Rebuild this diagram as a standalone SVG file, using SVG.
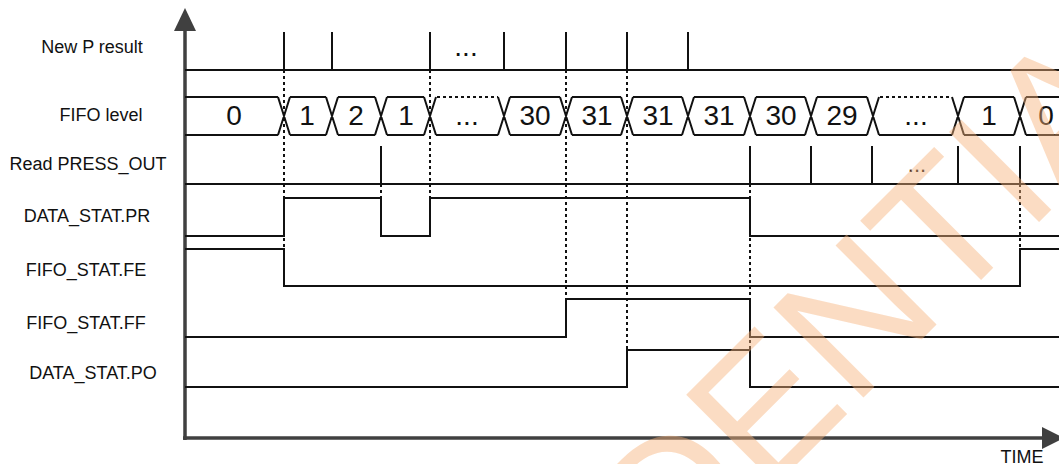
<svg xmlns="http://www.w3.org/2000/svg" width="1059" height="464" viewBox="0 0 1059 464">
<style>
.sig{stroke:#111;stroke-width:2;fill:none}
.dot{stroke:#111;stroke-width:2;fill:none;stroke-dasharray:3 3}
.axis{stroke:#404040;stroke-width:3.5;fill:none}
.lbl{font-family:"Liberation Sans",Arial,sans-serif;font-size:18px;fill:#111;text-anchor:middle}
.val{font-family:"Liberation Sans",Arial,sans-serif;font-size:28px;fill:#111;text-anchor:middle}
.wm{font-family:"Liberation Sans",Arial,sans-serif;font-size:185px;fill:#F7B27A;fill-opacity:0.45}
</style>
<rect width="1059" height="464" fill="#fff"/>
<g id="axes">
<path class="axis" d="M185,28 V440 M183,438 H1045"/>
<polygon points="185,8 174,31 196,31" fill="#404040"/>
<polygon points="1064,438 1042,427 1042,449" fill="#404040"/>
<text class="lbl" x="1022" y="463">TIME</text>
</g>
<g id="connectors">
<path class="dot" d="M284,70 V249 M430,70 V198 M381,184 V198 M566,70 V299 M627,70 V350 M750,184 V387 M1020,184 V249"/>
</g>
<g id="new-p-result">
<text class="lbl" x="92" y="53">New P result</text>
<path class="sig" d="M185,70 H1059 M284,32 V70 M332,32 V70 M430,32 V70 M504,32 V70 M566,32 V70 M627,32 V70 M688,32 V70"/>
<text class="val" x="466" y="56">...</text>
</g>
<g id="fifo-level">
<text class="lbl" x="101" y="121">FIFO level</text>
<path class="sig" d="M185,97 H278 M290,97 H326 M338,97 H375 M387,97 H424 M510,97 H560 M572,97 H621 M633,97 H682 M694,97 H744 M756,97 H805 M817,97 H867 M964,97 H1014 M1026,97 H1059
M185,135 H278 M290,135 H326 M338,135 H375 M387,135 H424 M436,135 H498 M510,135 H560 M572,135 H621 M633,135 H682 M694,135 H744 M756,135 H805 M817,135 H867 M879,135 H952 M964,135 H1014 M1026,135 H1059
M278,97 L290,135 M278,135 L290,97 M326,97 L338,135 M326,135 L338,97 M375,97 L387,135 M375,135 L387,97 M424,97 L436,135 M424,135 L436,97 M498,97 L510,135 M498,135 L510,97 M560,97 L572,135 M560,135 L572,97 M621,97 L633,135 M621,135 L633,97 M682,97 L694,135 M682,135 L694,97 M744,97 L756,135 M744,135 L756,97 M805,97 L817,135 M805,135 L817,97 M867,97 L879,135 M867,135 L879,97 M952,97 L964,135 M952,135 L964,97 M1014,97 L1026,135 M1014,135 L1026,97"/>
<path class="dot" d="M437,97 H498 M880,97 H952"/>
<text class="val" x="234" y="125">0</text>
<text class="val" x="307" y="125">1</text>
<text class="val" x="356" y="125">2</text>
<text class="val" x="406" y="125">1</text>
<text class="val" x="467" y="125">...</text>
<text class="val" x="535" y="125">30</text>
<text class="val" x="597" y="125">31</text>
<text class="val" x="658" y="125">31</text>
<text class="val" x="719" y="125">31</text>
<text class="val" x="781" y="125">30</text>
<text class="val" x="842" y="125">29</text>
<text class="val" x="916" y="125">...</text>
<text class="val" x="989" y="125">1</text>
<text class="val" x="1046" y="125">0</text>
</g>
<g id="read-press-out">
<text class="lbl" x="88" y="170">Read PRESS_OUT</text>
<path class="sig" d="M185,184 H1059 M381,146 V184 M750,146 V184 M811,146 V184 M872,146 V184 M958,146 V184 M1020,146 V184"/>
<text class="val" x="917" y="172" style="font-size:22px">...</text>
</g>
<g id="data-stat-pr">
<text class="lbl" x="87" y="222">DATA_STAT.PR</text>
<path class="sig" d="M185,236 H284 V198 H381 V236 H430 V198 H750 V236 H1059"/>
</g>
<g id="fifo-stat-fe">
<text class="lbl" x="86" y="276">FIFO_STAT.FE</text>
<path class="sig" d="M185,249 H284 V286 H1020 V249 H1059"/>
</g>
<g id="fifo-stat-ff">
<text class="lbl" x="86" y="329">FIFO_STAT.FF</text>
<path class="sig" d="M185,337 H566 V299 H750 V337 H1059"/>
</g>
<g id="data-stat-po">
<text class="lbl" x="93" y="379">DATA_STAT.PO</text>
<path class="sig" d="M185,387 H627 V350 H750 V387 H1059"/>
</g>
<g id="watermark">
<text class="wm" transform="translate(264,997) rotate(-45)">CONFIDENTIAL</text>
</g>
</svg>
